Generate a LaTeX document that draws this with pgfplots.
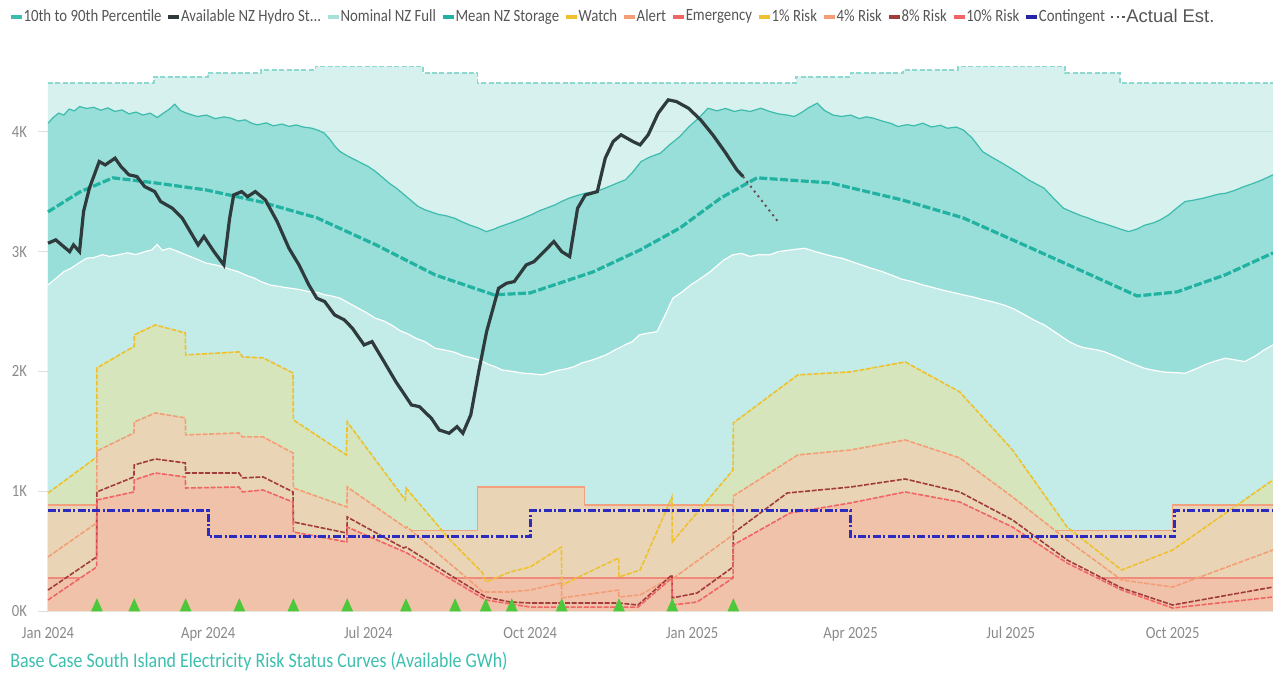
\documentclass[border=0pt]{standalone}
\usepackage{pgfplots}
\usepackage{pgfplotstable}
\pgfplotsset{compat=1.18}
\usepackage{fontspec}
\setmainfont{Carlito}[FakeStretch=0.86]
\newfontfamily\arialfont{Liberation Sans}

\definecolor{nomfill}{HTML}{D6F1EE}
\definecolor{nomline}{HTML}{8ED9CF}
\definecolor{bandfill}{HTML}{97DFD8}
\definecolor{lowfill}{HTML}{C3EBE7}
\definecolor{upline}{HTML}{3DBBAD}
\definecolor{meancol}{HTML}{22B2A2}
\definecolor{hydrocol}{HTML}{2E3A3C}
\definecolor{actcol}{HTML}{6B4A50}
\definecolor{greenfill}{HTML}{D6E5BB}
\definecolor{beigefill}{HTML}{E9D5B5}
\definecolor{salmonfill}{HTML}{F0C2A9}
\definecolor{riskone}{HTML}{EFC12C}
\definecolor{riskfour}{HTML}{F49E78}
\definecolor{riskeight}{HTML}{A23B3B}
\definecolor{riskten}{HTML}{F06464}
\definecolor{alertcol}{HTML}{F2A07E}
\definecolor{emergcol}{HTML}{F08A7A}
\definecolor{contcol}{HTML}{2B2BC0}
\definecolor{tricol}{HTML}{4CC83A}
\definecolor{titlecol}{HTML}{3CBFAE}
\definecolor{tickcol}{HTML}{8A8A8A}
\definecolor{legtext}{HTML}{555555}
\definecolor{gridcol}{HTML}{C6E6E3}

% 90th percentile
\pgfplotstableread{
day  val
0 4072
3 4120
6 4156
9 4140
12 4190
15 4175
18 4211
22 4195
26 4205
30 4180
34 4200
38 4170
42 4183
46 4150
50 4165
54 4140
58 4156
62 4120
66 4160
69 4190
72 4231
75 4180
78 4160
82 4140
85 4128
90 4140
95 4110
100 4125
104 4114
108 4090
112 4100
116 4070
119 4058
124 4075
128 4050
133 4065
137 4045
141 4058
145 4040
150 4030
154 4010
157 3989
160 3940
163 3880
166 3835
170 3800
174 3770
178 3740
182 3710
186 3670
190 3620
194 3570
198 3529
202 3480
206 3430
210 3380
214 3350
218 3330
222 3310
226 3300
231 3279
235 3250
240 3220
244 3200
249 3167
253 3185
257 3210
261 3230
265 3251
270 3280
275 3310
279 3340
283 3362
288 3390
292 3420
296 3446
301 3470
306 3490
310 3500
314 3515
319 3545
323 3570
328 3599
332 3660
337 3752
342 3790
348 3822
353 3890
359 3961
364 4040
370 4120
375 4197
380 4175
385 4195
390 4170
394 4183
399 4170
405 4197
410 4170
415 4150
420 4140
424 4128
428 4160
432 4200
437 4239
441 4180
446 4140
451 4128
456 4140
461 4110
465 4125
469 4114
474 4090
479 4070
483 4044
488 4060
492 4050
497 4072
502 4040
507 4055
511 4030
516 4040
520 4016
525 3950
531 3835
536 3790
542 3740
547 3696
552 3650
557 3600
562 3560
566 3529
571 3450
577 3362
582 3330
587 3300
591 3280
596 3251
601 3230
605 3210
610 3185
614 3167
619 3190
623 3220
628 3240
632 3265
637 3310
641 3360
646 3418
651 3430
656 3445
660 3460
665 3480
669 3487
674 3510
679 3540
685 3571
690 3600
696 3641
}\tabUpper

% 10th percentile
\pgfplotstableread{
day val
0 2722
4 2770
9 2833
13 2860
17 2900
22 2945
26 2950
31 2975
35 2960
40 2973
45 2990
50 2975
55 3000
59 3014
62 3060
65 3010
69 3028
74 3000
79 2970
84 2940
90 2903
95 2890
100 2870
104 2850
108 2833
113 2800
117 2780
121 2750
126 2722
131 2710
135 2700
140 2690
144 2680
148 2666
153 2660
157 2640
161 2630
166 2611
171 2570
176 2530
181 2490
186 2444
191 2420
196 2380
200 2340
205 2310
209 2277
214 2250
220 2193
225 2180
231 2160
236 2130
242 2109
246 2090
250 2060
254 2040
258 2012
264 2000
270 1985
275 1980
281 1971
285 1990
290 2010
294 2020
299 2040
303 2070
308 2090
312 2110
317 2138
321 2170
325 2200
329 2230
332 2249
336 2305
341 2320
346 2332
350 2450
355 2611
360 2660
365 2720
371 2778
376 2830
380 2880
384 2930
389 2973
394 2985
399 2960
404 2975
410 2973
415 3000
420 3010
425 3020
430 3028
436 3000
441 2980
446 2960
451 2945
456 2920
462 2890
468 2860
474 2833
480 2800
485 2770
491 2750
497 2722
503 2700
508 2680
514 2660
520 2639
526 2620
531 2600
537 2580
543 2555
549 2520
554 2480
560 2430
566 2388
571 2340
576 2290
580 2250
584 2221
588 2200
592 2190
596 2180
600 2165
606 2130
612 2090
617 2060
623 2026
628 2010
634 1995
640 1990
646 1985
652 2020
658 2060
664 2090
669 2110
675 2095
680 2082
686 2130
691 2180
696 2221
}\tabLower

\pgfplotstableread{
day val
0 4408
60 4408
60 4460
91 4460
91 4490
121 4490
121 4517
152 4517
152 4545
213 4545
213 4490
244 4490
244 4408
425 4408
425 4460
456 4460
456 4490
486 4490
486 4517
517 4517
517 4545
578 4545
578 4490
609 4490
609 4408
696 4408
}\tabNominal

% 1% risk
\pgfplotstableread{
day val
0 985
27.8 1286
27.8 2029
49 2210
49 2305
61 2388
78 2321
78.2 2138
108.7 2163
110.5 2121
122.2 2113
139.2 1987
139.4 1595
169.5 1303
170 1578
203 927
203.4 1027
228.4 593
247 317
248.7 242
262.5 326
273.9 367
291.7 534
291.9 217
324.2 443
324.4 284
336.4 342
354.5 952
354.7 576
389.2 1177
389.4 1570
426 1971
456 1996
487 2079
518 1829
548 1344
579 701
610 342
639 509
696 1094
}\tabRiskOne

% 4% risk
\pgfplotstableread{
day val
0 451
27.6 735
27.8 1336
48.8 1486
49 1578
61 1653
78 1612
78.2 1470
108.5 1486
110.5 1453
122.2 1453
139.2 1319
139.4 1027
169.8 868
170 1035
203.4 693
204 701
247.2 159
262.5 159
273.9 175
291.7 234
291.9 109
324.2 175
324.4 117
336.4 134
354.5 284
354.7 267
389.2 635
389.4 960
426 1303
456 1344
487 1428
518 1278
548 952
579 593
610 259
639 200
696 509
}\tabRiskFour

% 8% risk
\pgfplotstableread{
day val
0 175
27.6 451
27.8 994
48.8 1119
49 1219
61 1269
78 1236
78.2 1152
108.5 1152
110.5 1111
122.2 1119
139.2 994
139.4 743
169.8 651
170 785
202 526
203.4 534
228.4 301
248.7 117
262.5 75
273.9 67
324 67
335.2 50
354.5 301
354.7 109
368.8 150
389.2 367
389.4 651
420 985
456 1035
487 1102
518 994
548 760
579 426
610 192
639 50
696 200
}\tabRiskEight

% 10% risk
\pgfplotstableread{
day val
0 92
27.6 367
27.8 927
48.8 994
49 1094
61 1152
78 1119
78.2 1027
108.5 1035
110.5 994
122.2 1010
139.2 910
139.4 660
169.8 576
170 701
204 484
248.7 92
273.9 33
335.2 33
354.5 276
354.7 50
368.8 75
389.2 276
389.4 551
421.6 818
456 902
487 994
518 910
548 701
579 401
610 175
639 25
696 117
}\tabRiskTen

% alert threshold
\pgfplotstableread{
day val
0 885
91 885
91 670
244 670
244 1035
305 1035
305 885
456 885
456 670
639 670
639 885
696 885
}\tabAlert

\begin{document}
\begin{tikzpicture}
\path[use as bounding box] (0,0) rectangle (636.5pt,337.5pt);
\begin{axis}[
  at={(24pt,32pt)}, anchor=south west,
  scale only axis, width=612.5pt, height=284.5pt,
  xmin=0, xmax=696, ymin=0, ymax=4750,
  clip=false,
  axis line style={draw=none},
  xtick={0,91,182,274,366,456,547,639},
  xticklabels={Jan 2024,Apr 2024,Jul 2024,Oct 2024,Jan 2025,Apr 2025,Jul 2025,Oct 2025},
  ytick={0,1000,2000,3000,4000},
  yticklabels={0K,1K,2K,3K,4K},
  tick align=outside,
  xtick style={draw=none},
  ytick style={draw=black!13, line width=0.5pt},
  major tick length=5pt,
  xticklabel style={font=\fontsize{8.5}{10}\selectfont, text=tickcol, yshift=0.5pt},
  yticklabel style={font=\fontsize{8.5}{10}\selectfont, text=tickcol, xshift=-2pt},
  legend columns=-1,
  legend cell align=left,
  legend image code/.code={\draw[#1] (0pt,0pt) -- (5.5pt,0pt);},
  legend style={at={(-0.0376,1.044)}, anchor=west, draw=none, fill=none,
    font=\fontsize{8.6}{10}\selectfont, text=legtext,
    nodes={inner sep=0.3pt},
    /tikz/every odd column/.append style={column sep=-0.6pt},
    /tikz/every even column/.append style={column sep=1.9pt}},
]
% Nominal NZ Full
\addplot[fill=nomfill, draw=none, forget plot] table[x=day,y=val] {\tabNominal} \closedcycle;
\addplot[gridcol, line width=0.5pt, forget plot] coordinates {(0,4000) (696,4000)};
% 10th to 90th percentile
\addplot[fill=bandfill, draw=none, forget plot] table[x=day,y=val] {\tabUpper} \closedcycle;
\addplot[upline, line width=0.6pt, forget plot] table[x=day,y=val] {\tabUpper};
\addplot[fill=lowfill, draw=none, forget plot] table[x=day,y=val] {\tabLower} \closedcycle;
\addplot[white, line width=0.6pt, forget plot] table[x=day,y=val] {\tabLower};
\addplot[nomline, line width=0.9pt, dash pattern=on 2.5pt off 1.2pt, forget plot] table[x=day,y=val] {\tabNominal};
% status areas, back to front
\addplot[fill=greenfill, draw=none, forget plot] table[x=day,y=val] {\tabRiskOne} \closedcycle;
\addplot[fill=beigefill, draw=none, forget plot] table[x=day,y=val] {\tabAlert} \closedcycle;
\addplot[alertcol, line width=0.6pt, forget plot] table[x=day,y=val] {\tabAlert};
\addplot[fill=beigefill, draw=none, forget plot] table[x=day,y=val] {\tabRiskFour} \closedcycle;
\addplot[fill=salmonfill, draw=none, forget plot] coordinates {(0,275) (696,275)} \closedcycle;
\addplot[emergcol, line width=0.6pt, forget plot] coordinates {(0,275) (696,275)};
\addplot[fill=salmonfill, draw=none, forget plot] table[x=day,y=val] {\tabRiskTen} \closedcycle;
% risk curves
\addplot[riskone, line width=0.8pt, dash pattern=on 2.5pt off 0.8pt, forget plot] table[x=day,y=val] {\tabRiskOne};
\addplot[riskfour, line width=0.8pt, dash pattern=on 2.5pt off 0.8pt, forget plot] table[x=day,y=val] {\tabRiskFour};
\addplot[riskeight, line width=0.8pt, dash pattern=on 2.5pt off 0.8pt, forget plot] table[x=day,y=val] {\tabRiskEight};
\addplot[riskten, line width=0.8pt, dash pattern=on 2.5pt off 0.8pt, forget plot] table[x=day,y=val] {\tabRiskTen};
% contingent
\addplot[contcol, line width=1.5pt, dash pattern=on 4pt off 1.2pt on 1pt off 1.2pt, forget plot] coordinates {
(0,835) (91,835) (91,618) (274,618) (274,835) (456,835) (456,618) (640,618) (640,835) (696,835)};
% mean storage
\addplot[meancol, line width=1.6pt, dash pattern=on 4pt off 1.2pt, forget plot] coordinates {
(0,3332) (18.2,3499) (36.9,3616) (60.8,3574) (89.8,3515) (121,3415) (152.8,3282)
(186.4,3056) (219.9,2806) (253.4,2639) (273.9,2655) (309.7,2831) (336.4,3014)
(359.1,3198) (382.4,3449) (402.8,3616) (444.3,3574) (485.2,3432) (519.9,3282)
(554.5,3056) (588.6,2831) (618.8,2630) (641.5,2664) (668.8,2806) (696,2989)};
% available hydro storage
\addplot[hydrocol, line width=1.6pt, forget plot] coordinates {
(0,3070) (4.4,3098) (8.9,3042) (12.3,3000) (14.5,3056) (17.9,3000) (20.2,3334)
(23.5,3529) (29.1,3752) (32.5,3724) (38.1,3780) (41.5,3710) (46,3641) (50.5,3627)
(54.9,3543) (60.6,3501) (64,3418) (70.7,3362) (76.3,3279) (81.9,3140) (85.3,3056)
(88.6,3126) (94.3,3000) (99.9,2889) (103.2,3279) (105.5,3473) (110,3501) (113.4,3459)
(117.8,3501) (123.5,3432) (130.2,3251) (136.9,3028) (142.6,2889) (148.2,2722)
(152.7,2611) (157.2,2583) (162.8,2472) (168.4,2430) (172.9,2361) (179.6,2221)
(184.1,2249) (190.9,2082) (197.6,1915) (206.5,1720) (211,1706) (217.8,1609)
(222.3,1511) (227.9,1484) (232.4,1539) (235.7,1484) (240.2,1637) (244.7,1998)
(249.2,2332) (256,2694) (260.5,2736) (264.9,2750) (271.7,2889) (276.2,2917)
(281.8,3000) (287.4,3084) (291.9,3000) (296.4,2959) (300.9,3362) (305.3,3473)
(312.1,3501) (316.6,3780) (321.1,3919) (325.6,3975) (332.3,3919) (336.4,3891)
(341,3975) (346.7,4156) (352.4,4267) (357,4253) (363.9,4197) (370.8,4100)
(377.7,3975) (384.5,3835) (391.4,3682) (394.9,3627)};
\addplot[actcol, line width=1pt, dotted, forget plot] coordinates {(394.9,3627) (415.3,3240)};
% markers
\addplot[only marks, mark=triangle*, mark size=3pt, color=tricol,
  mark options={yscale=1.3, fill=tricol, draw=tricol}, forget plot] coordinates {
(27.8,33) (49,33) (78.2,33) (108.7,33) (139.4,33) (170,33) (203.4,33) (231.3,33)
(248.7,33) (263.5,33) (291.9,33) (324.4,33) (354.7,33) (389.4,33)};
% legend
\addlegendimage{line width=2.4pt, color=upline}
\addlegendentry{10th to 90th Percentile}
\addlegendimage{line width=2.4pt, color=hydrocol}
\addlegendentry{Available NZ Hydro St...}
\addlegendimage{line width=2.4pt, color=nomline!80!white}
\addlegendentry{Nominal NZ Full}
\addlegendimage{line width=2.4pt, color=meancol}
\addlegendentry{Mean NZ Storage}
\addlegendimage{line width=2.4pt, color=riskone}
\addlegendentry{Watch}
\addlegendimage{line width=2.4pt, color=riskfour}
\addlegendentry{Alert}
\addlegendimage{line width=2.4pt, color=riskten}
\addlegendentry{Emergency}
\addlegendimage{line width=2.4pt, color=riskone}
\addlegendentry{1\% Risk}
\addlegendimage{line width=2.4pt, color=riskfour}
\addlegendentry{4\% Risk}
\addlegendimage{line width=2.4pt, color=riskeight}
\addlegendentry{8\% Risk}
\addlegendimage{line width=2.4pt, color=riskten}
\addlegendentry{10\% Risk}
\addlegendimage{line width=2.4pt, color=contcol!85!black}
\addlegendentry{Contingent}
\addlegendimage{legend image code/.code={\draw[line width=1.3pt, dash pattern=on 1.3pt off 1.6pt, legtext] (0pt,0pt) -- (7.5pt,0pt);}}
\addlegendentry{\arialfont\fontsize{9.2}{11}\selectfont Actual Est.}
\end{axis}
\node[anchor=west, text=titlecol, font=\fontsize{10.4}{12}\selectfont, inner sep=0pt] at (5pt,6.5pt)
  {Base Case South Island Electricity Risk Status Curves (Available GWh)};
\end{tikzpicture}
\end{document}
